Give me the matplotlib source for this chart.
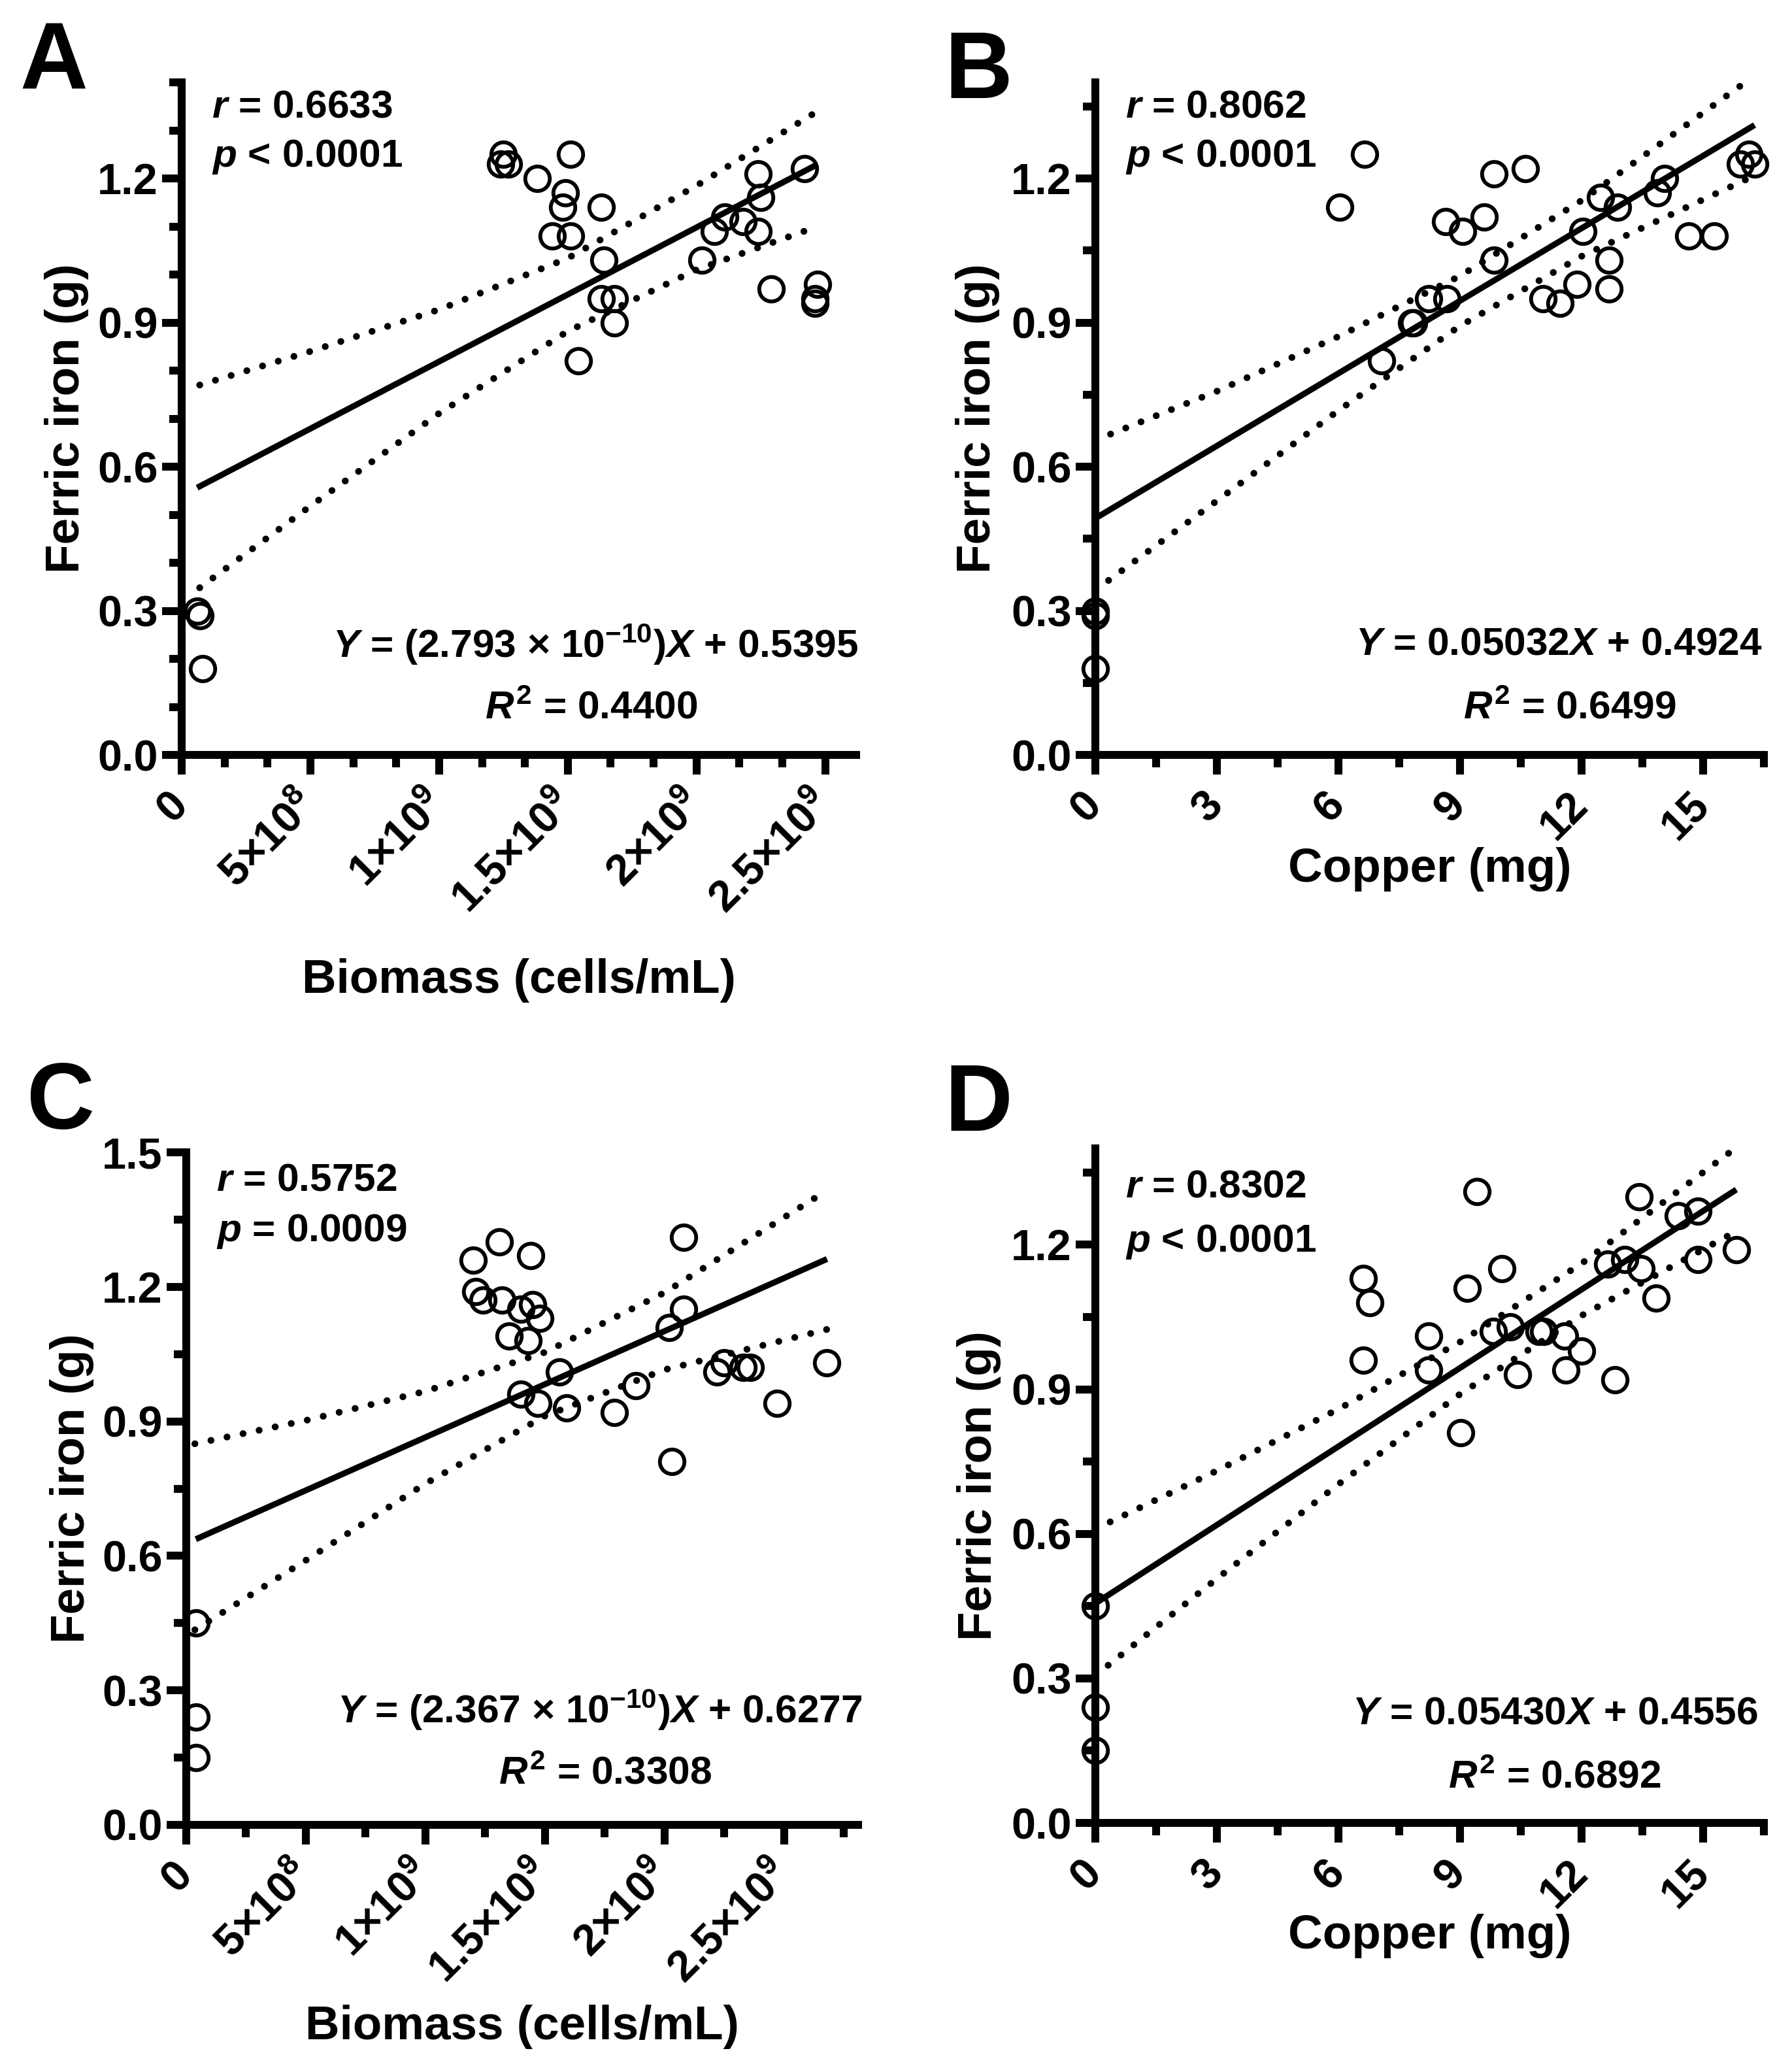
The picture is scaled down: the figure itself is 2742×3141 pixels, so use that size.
import numpy as np
import matplotlib
matplotlib.use("Agg")
import matplotlib.pyplot as plt
from matplotlib.ticker import MultipleLocator, FixedLocator

plt.rcParams['font.family'] = ['Liberation Sans', 'DejaVu Sans']
plt.rcParams['font.weight'] = 'bold'
plt.rcParams['mathtext.fontset'] = 'custom'
plt.rcParams['mathtext.rm'] = 'Liberation Sans:weight=bold'
plt.rcParams['mathtext.bf'] = 'Liberation Sans:weight=bold'
plt.rcParams['mathtext.it'] = 'Liberation Sans:style=italic:weight=bold'

# ---- data ----
# A: biomass vs ferric iron
A_biomass = np.array([0.06, 0.07, 0.08, 1.25, 1.27, 1.24, 1.38, 1.49, 1.48, 1.44, 1.51, 1.51,
                      1.63, 1.64, 1.63, 1.68, 1.68, 1.54, 2.02, 2.07, 2.11, 2.18, 2.24, 2.24,
                      2.25, 2.29, 2.42, 2.47, 2.46, 2.46]) * 1e9
A_iron = [0.30, 0.29, 0.18, 1.25, 1.23, 1.23, 1.20, 1.17, 1.14, 1.08, 1.08, 1.25,
          1.14, 1.03, 0.95, 0.95, 0.90, 0.82, 1.03, 1.09, 1.12, 1.11, 1.09, 1.21,
          1.16, 0.97, 1.22, 0.98, 0.94, 0.95]
A_band_x = np.array([0.07, 0.5, 1.0, 1.5, 2.0, 2.47]) * 1e9
A_band_up = [0.770, 0.840, 0.927, 1.034, 1.185, 1.340]
A_band_lo = [0.348, 0.518, 0.711, 0.882, 1.010, 1.100]

# B: copper vs ferric iron
B_copper = [0, 0, 0, 6.03, 6.64, 7.06, 7.80, 7.85, 8.22, 8.67, 8.64, 9.07, 9.59, 9.84, 9.84,
            10.62, 11.05, 11.47, 11.89, 12.03, 12.46, 12.67, 12.67, 12.88, 13.87, 14.05,
            14.65, 15.28, 15.92, 16.13, 16.27]
B_iron = [0.29, 0.30, 0.18, 1.14, 1.25, 0.82, 0.90, 0.90, 0.95, 0.95, 1.11, 1.09, 1.12, 1.21, 1.03,
          1.22, 0.95, 0.94, 0.98, 1.09, 1.16, 1.03, 0.97, 1.14, 1.17, 1.20,
          1.08, 1.08, 1.23, 1.25, 1.23]
B_band_x = [0, 3, 6, 9, 12, 16.27]
B_band_up = [0.655, 0.757, 0.871, 0.997, 1.154, 1.414]
B_band_lo = [0.343, 0.529, 0.717, 0.893, 1.038, 1.206]

# C: biomass vs ferric iron
C_biomass = np.array([0.04, 0.04, 0.04, 1.20, 1.21, 1.24, 1.31, 1.32, 1.35, 1.40, 1.40, 1.44,
                      1.45, 1.43, 1.48, 1.47, 1.56, 1.59, 1.79, 1.88, 2.02, 2.08, 2.08, 2.03,
                      2.22, 2.25, 2.33, 2.36, 2.47, 2.68]) * 1e9
C_iron = [0.45, 0.24, 0.15, 1.26, 1.19, 1.17, 1.30, 1.17, 1.09, 1.15, 0.96, 1.27,
          1.16, 1.08, 1.13, 0.94, 1.01, 0.93, 0.92, 0.98, 1.11, 1.31, 1.15, 0.81,
          1.01, 1.03, 1.02, 1.02, 0.94, 1.03]
C_band_x = np.array([0.036, 0.5, 1.0, 1.5, 2.0, 2.68]) * 1e9
C_band_up = [0.850, 0.902, 0.967, 1.054, 1.187, 1.415]
C_band_lo = [0.435, 0.590, 0.761, 0.912, 1.015, 1.105]

# D: copper vs ferric iron
D_copper = [0, 0, 0, 6.61, 6.78, 6.61, 8.22, 8.22, 9.01, 9.18, 9.42, 9.82, 10.03, 10.24, 10.42,
            10.95, 11.06, 11.58, 11.62, 12.00, 12.64, 12.82, 13.06, 13.42, 13.46, 13.84,
            14.38, 14.87, 14.87, 15.82]
D_iron = [0.45, 0.24, 0.15, 1.13, 1.08, 0.96, 1.01, 0.94, 0.81, 1.11, 1.31, 1.02, 1.15, 1.03, 0.93,
          1.02, 1.02, 1.01, 0.94, 0.98, 1.16, 0.92, 1.17, 1.30, 1.15, 1.09,
          1.26, 1.27, 1.17, 1.19]
D_band_x = [0, 3, 6, 9, 12, 15.82]
D_band_up = [0.610, 0.731, 0.859, 0.998, 1.161, 1.402]
D_band_lo = [0.306, 0.507, 0.703, 0.890, 1.053, 1.228]

# fitted lines as printed on the panels
slopes = [2.793e-10, 0.05032, 2.367e-10, 0.05430]
intercepts = [0.5395, 0.4924, 0.6277, 0.4556]

bio_ticks = [0, 5e8, 1e9, 1.5e9, 2e9, 2.5e9]
bio_labels = ['0', r'5×10$^{8}$', r'1×10$^{9}$', r'1.5×10$^{9}$', r'2×10$^{9}$', r'2.5×10$^{9}$']
cu_ticks = [0, 3, 6, 9, 12, 15]
cu_labels = ['0', '3', '6', '9', '12', '15']

r_texts = [r'$\mathit{r}$ = 0.6633', r'$\mathit{r}$ = 0.8062', r'$\mathit{r}$ = 0.5752', r'$\mathit{r}$ = 0.8302']
p_texts = [r'$\mathit{p}$ < 0.0001', r'$\mathit{p}$ < 0.0001', r'$\mathit{p}$ = 0.0009', r'$\mathit{p}$ < 0.0001']
eq_texts = [r'$\mathit{Y}$ = (2.793 × 10$^{-10}$)$\mathit{X}$ + 0.5395',
            r'$\mathit{Y}$ = 0.05032$\mathit{X}$ + 0.4924',
            r'$\mathit{Y}$ = (2.367 × 10$^{-10}$)$\mathit{X}$ + 0.6277',
            r'$\mathit{Y}$ = 0.05430$\mathit{X}$ + 0.4556']
r2_texts = [r'$\mathit{R}^{2}$ = 0.4400', r'$\mathit{R}^{2}$ = 0.6499',
            r'$\mathit{R}^{2}$ = 0.3308', r'$\mathit{R}^{2}$ = 0.6892']

W, H = 2742, 3141
fig = plt.figure(figsize=(W / 300, H / 300), dpi=300)


def px_axes(left, right, top, bottom):
    return fig.add_axes([left / W, 1 - bottom / H, (right - left) / W, (bottom - top) / H])


def panel(ax, x, y, k, b, bx, bup, blo, xlim, ylim, xticks, xlabels, xminor, yminor,
          xlabel, xlab_y, ylab_x, txt_y, eq_pos, idx):
    x = np.asarray(x)
    xs = np.array([x.min(), x.max()])
    ax.plot(xs, k * xs + b, color='black', lw=2.2, zorder=2, solid_capstyle='butt')
    for band in (bup, blo):
        ax.plot(bx, band, color='black', lw=2.5, linestyle=(0, (0.01, 2.4)),
                dash_capstyle='round', zorder=2)
    ax.plot(x, y, 'o', ms=9.0, mfc='none', mec='black', mew=1.4, zorder=3, clip_on=False)

    ax.set_xlim(*xlim)
    ax.set_ylim(*ylim)
    for s in ('top', 'right'):
        ax.spines[s].set_visible(False)
    for s in ('left', 'bottom'):
        ax.spines[s].set_linewidth(2.9)
        ax.spines[s].set_capstyle('projecting')
    ax.xaxis.set_major_locator(FixedLocator(xticks))
    ax.xaxis.set_minor_locator(MultipleLocator(xminor))
    ax.yaxis.set_major_locator(MultipleLocator(0.3))
    ax.yaxis.set_minor_locator(MultipleLocator(yminor))
    ax.set_yticks(ax.get_yticks())
    ax.set_yticklabels(['%.1f' % v for v in ax.get_yticks()])
    ax.set_ylim(*ylim)
    ax.set_xticks(xticks)
    ax.set_xticklabels(xlabels, rotation=45, ha='right', va='center', rotation_mode='anchor')
    ax.tick_params(which='major', length=7.2, width=2.9, labelsize=16, color='black')
    ax.tick_params(which='minor', length=4.5, width=2.9)
    ax.tick_params(axis='y', which='major', pad=1.5)
    ax.tick_params(axis='x', which='major', pad=9)

    ax.text(0.5, xlab_y, xlabel, transform=ax.transAxes, ha='center', va='center',
            fontsize=17.5, fontweight='bold')
    ax.text(ylab_x, 0.5, 'Ferric iron (g)', transform=ax.transAxes, ha='center', va='center',
            rotation=90, fontsize=17.5, fontweight='bold')

    tx = 0.045
    ax.text(tx, txt_y[0], r_texts[idx], transform=ax.transAxes, ha='left', va='center', fontsize=14.5)
    ax.text(tx, txt_y[1], p_texts[idx], transform=ax.transAxes, ha='left', va='center', fontsize=14.5)
    ax.text(eq_pos[0], eq_pos[1], eq_texts[idx], transform=ax.transAxes, ha='center', va='center', fontsize=14.5)
    ax.text(eq_pos[2], eq_pos[3], r2_texts[idx], transform=ax.transAxes, ha='center', va='center', fontsize=14.5)


axA = px_axes(278, 1310, 126, 1155)
panel(axA, A_biomass, A_iron, slopes[0], intercepts[0], A_band_x, A_band_up, A_band_lo,
      (0, 2.62e9), (0, 1.4), bio_ticks, bio_labels, 5e8 / 3, 0.1,
      'Biomass (cells/mL)', -0.335, -0.171, (0.963, 0.889), (0.613, 0.164, 0.607, 0.069), 0)

axB = px_axes(1676, 2699, 126, 1155)
panel(axB, B_copper, B_iron, slopes[1], intercepts[1], B_band_x, B_band_up, B_band_lo,
      (0, 16.5), (0, 1.4), cu_ticks, cu_labels, 1.5, 0.15,
      'Copper (mg)', -0.170, -0.176, (0.963, 0.889), (0.693, 0.164, 0.71, 0.069), 1)

axC = px_axes(285, 1313, 1763, 2792)
panel(axC, C_biomass, C_iron, slopes[2], intercepts[2], C_band_x, C_band_up, C_band_lo,
      (0, 2.81e9), (0, 1.5), bio_ticks, bio_labels, 2.5e8, 0.15,
      'Biomass (cells/mL)', -0.300, -0.170, (0.958, 0.882), (0.615, 0.171, 0.624, 0.076), 2)

axD = px_axes(1676, 2699, 1757, 2789)
panel(axD, D_copper, D_iron, slopes[3], intercepts[3], D_band_x, D_band_up, D_band_lo,
      (0, 16.5), (0, 1.4), cu_ticks, cu_labels, 1.5, 0.15,
      'Copper (mg)', -0.168, -0.174, (0.943, 0.861), (0.688, 0.162, 0.687, 0.067), 3)

for letter, lx, ly in (('A', 30, 30), ('B', 1445, 45), ('C', 40, 1622), ('D', 1445, 1625)):
    fig.text(lx / W, 1 - ly / H, letter, ha='left', va='top', fontsize=34.5, fontweight='bold')

fig.savefig('out.png', dpi=300)
